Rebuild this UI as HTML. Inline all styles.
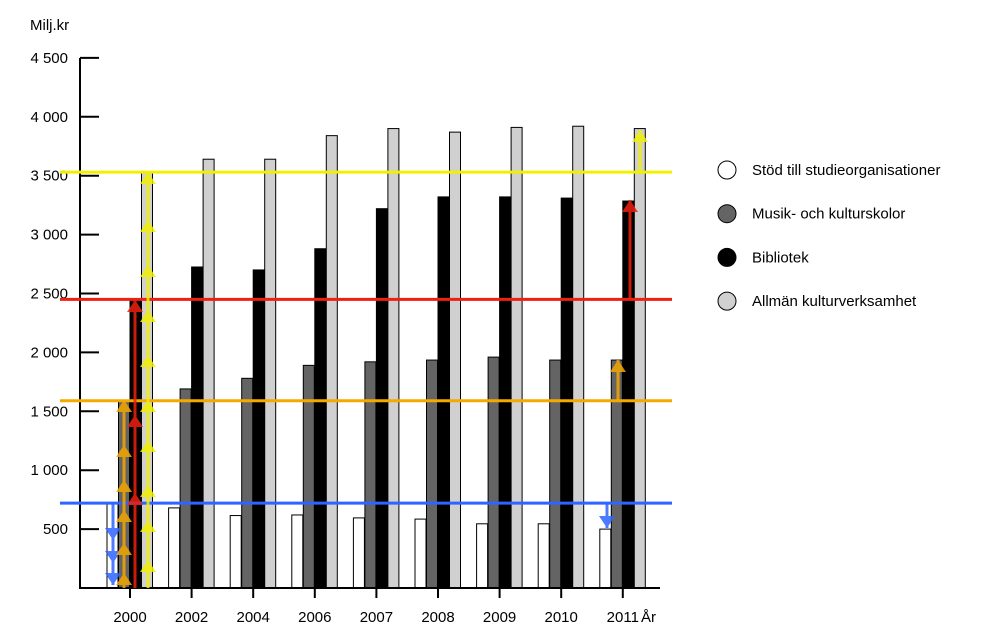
<!DOCTYPE html>
<html><head><meta charset="utf-8"><style>
body{margin:0;background:#fff;font-family:"Liberation Sans",sans-serif}
svg text{font-family:"Liberation Sans",sans-serif;fill:#000}
</style></head><body>
<svg id="c" width="1000" height="639"></svg>
<script>
const categories=["2000","2002","2004","2006","2007","2008","2009","2010","2011"];
const studie=[720,680,615,620,595,585,545,545,500];
const musik=[1590,1690,1780,1890,1920,1935,1960,1935,1935];
const bibliotek=[2450,2725,2700,2880,3220,3320,3320,3310,3285];
const allman=[3530,3640,3640,3840,3900,3870,3910,3920,3900];
const yTicks=[500,1000,1500,2000,2500,3000,3500,4000,4500];
const yTickLabels=["500","1 000","1 500","2 000","2 500","3 000","3 500","4 000","4 500"];
const refLines=[720,1590,2450,3530];
const seriesNames=["Stöd till studieorganisationer","Musik- och kulturskolor","Bibliotek","Allmän kulturverksamhet"];
const NS="http://www.w3.org/2000/svg",svg=document.getElementById('c');
const y=v=>588-v*0.1178, x=i=>130+i*61.6;
function el(t,a,p){const e=document.createElementNS(NS,t);for(const k in a)e.setAttribute(k,a[k]);(p||svg).appendChild(e);return e;}
let t=el('text',{x:30,y:30,'font-size':15});t.textContent="Milj.kr";


yTicks.forEach((v,i)=>{
 const l=el('line',{x1:80,x2:99,y1:y(v),y2:y(v),stroke:'#000','stroke-width':2});
 
 
 const tx=el('text',{x:68,y:y(v)+5,'font-size':15,'text-anchor':'end'});tx.textContent=yTickLabels[i];
 
 
});
const fills=['#fff','#646464','#000','#d0d0d0'];
const series=[studie,musik,bibliotek,allman];
categories.forEach((c,i)=>{
 series.forEach((s,j)=>{
  const bx=x(i)-23+j*11.5;
  const r=el('rect',{x:bx,y:y(s[i]),width:11,height:588-y(s[i]),fill:fills[j],stroke:'#000','stroke-width':1});
  
  
 });
 const tk=el('line',{x1:x(i),x2:x(i),y1:588,y2:598,stroke:'#000','stroke-width':2});
 
 
 const tx=el('text',{x:x(i),y:622,'font-size':15,'text-anchor':'middle'});tx.textContent=c;
 
 
});
const ax=el('path',{d:'M80 58 V588 H660',fill:'none',stroke:'#000','stroke-width':2});


t=el('text',{x:641,y:622,'font-size':15});t.textContent="År";


const lc=['#2e64ff','#f5a800','#ee2010','#f0f000'];
refLines.forEach((v,i)=>{
 const l=el('line',{x1:60,x2:672,y1:y(v),y2:y(v),stroke:lc[i],'stroke-width':3});
 
 
});
function arrow(ax,y0,y1,col,heads){
 const g=el('g',{opacity:0.85});
 
 
 el('line',{x1:ax,x2:ax,y1:y0,y2:y1,stroke:col,'stroke-width':3},g);
 const up=y1<y0;
 heads.forEach(h=>{const d=up?-1:1;el('path',{d:`M${ax-8} ${h-d*12} L${ax+8} ${h-d*12} L${ax} ${h} Z`,fill:col},g);});
}
arrow(113,y(720),585,lc[0],[540,563,585]);
arrow(124,588,y(1590),lc[1],[400,445,480,510,543,573].map(h=>h-12+12));
arrow(135,588,y(2450),lc[2],[300,415,493]);
arrow(148,588,y(3530),lc[3],[172,220,265,310,355,400,440,485,520,560]);
arrow(607,y(720),528,lc[0],[528]);
arrow(618,y(1590),360,lc[1],[360]);
arrow(630,y(2450),200,lc[2],[200]);
arrow(640,y(3530),130,lc[3],[130]);
seriesNames.forEach((n,i)=>{
 const cy=170+i*43.7;
 const c=el('circle',{cx:727,cy:cy,r:9,fill:fills[i],stroke:'#000','stroke-width':1});
 
 
 const tx=el('text',{x:752,y:cy+5,'font-size':15});tx.textContent=n;
 
 
});
</script>
</body></html>
